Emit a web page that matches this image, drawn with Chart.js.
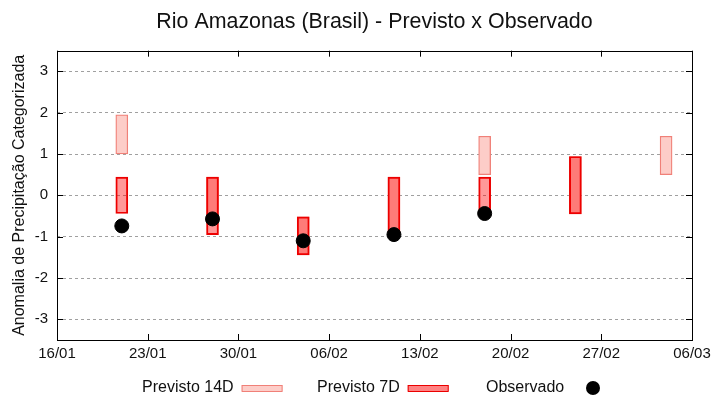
<!DOCTYPE html>
<html>
<head>
<meta charset="utf-8">
<script src="https://cdn.jsdelivr.net/npm/chart.js@4.4.1/dist/chart.umd.min.js"></script>
<style>
 html, body { margin: 0; padding: 0; background: #fff; }
</style>
</head>
<body>
<canvas id="chuvaChart" width="720" height="400"></canvas>
<script>
// dias contados a partir de 16/01
const tickDays = [0, 7, 14, 21, 28, 35, 42, 49];
const tickLabels = ['16/01', '23/01', '30/01', '06/02', '13/02', '20/02', '27/02', '06/03'];
const yTicks = [-3, -2, -1, 0, 1, 2, 3];

const prev14Days = [5, 12, 19, 26, 33, 40, 47];
const prev14Low  = [1.0, -0.68, -1.44, -0.9, 0.5, -0.45, 0.5];
const prev14High = [1.95, 0.44, -0.52, 0.44, 1.43, 0.94, 1.43];

const prev7Days = [5, 12, 19, 26, 33, 40];
const prev7Low  = [-0.44, -0.95, -1.44, -0.9, -0.44, -0.45];
const prev7High = [0.44, 0.44, -0.52, 0.44, 0.44, 0.94];

const obsDays = [5, 12, 19, 26, 33];
const obsValues = [-0.74, -0.57, -1.1, -0.95, -0.44];

const textCol = '#111';
const fontFam = '"Liberation Sans", Arial, sans-serif';

const c14 = { fill: 'rgb(253,205,200)', border: 'rgb(240,128,120)' };
const c7 = { fill: 'rgba(255,0,0,0.4)', border: 'rgb(235,0,0)' };

// moldura com tiques para dentro (estilo gnuplot)
const moldura = {
 id: 'moldura',
 afterDatasetsDraw(chart) {
  const { ctx, chartArea: a, scales } = chart;
  const len = 6;
  ctx.save();
  ctx.strokeStyle = '#000';
  ctx.lineWidth = 1;
  ctx.beginPath();
  scales.y.ticks.forEach(t => {
   const y = Math.round(scales.y.getPixelForValue(t.value)) + 0.5;
   ctx.moveTo(a.left, y); ctx.lineTo(a.left + len, y);
   ctx.moveTo(a.right, y); ctx.lineTo(a.right - len, y);
  });
  scales.x.ticks.forEach(t => {
   const x = Math.round(scales.x.getPixelForValue(t.value)) + 0.5;
   ctx.moveTo(x, a.bottom); ctx.lineTo(x, a.bottom - len);
   ctx.moveTo(x, a.top); ctx.lineTo(x, a.top + len);
  });
  ctx.stroke();
  ctx.strokeRect(Math.round(a.left) + 0.5, Math.round(a.top) + 0.5,
   Math.round(a.right - a.left), Math.round(a.bottom - a.top));
  ctx.restore();
 }
};

// legenda: texto e depois a amostra
const legendaBaixo = {
 id: 'legendaBaixo',
 afterDraw(chart) {
  const { ctx } = chart;
  const spots = [142, 317, 486];
  ctx.save();
  ctx.font = '16px ' + fontFam;
  ctx.textBaseline = 'alphabetic';
  chart.data.datasets.forEach((ds, i) => {
   const x = spots[i];
   ctx.fillStyle = textCol;
   ctx.fillText(ds.label, x, 392);
   const w = ctx.measureText(ds.label).width;
   if (ds.type === 'scatter') {
    ctx.beginPath();
    ctx.arc(593, 388, 7, 0, Math.PI * 2);
    ctx.fillStyle = '#000';
    ctx.fill();
   } else {
    const bx = x + w + 8;
    ctx.fillStyle = ds.legendFill;
    ctx.fillRect(bx, 385, 41, 6);
    ctx.strokeStyle = ds.borderColor;
    ctx.lineWidth = 1;
    ctx.strokeRect(bx + 0.5, 385.5, 40, 6);
   }
  });
  ctx.restore();
 }
};

const ctx = document.getElementById('chuvaChart').getContext('2d');

new Chart(ctx, {
 type: 'bar',
 data: {
  datasets: [
   {
    label: 'Previsto 14D',
    data: prev14Days.map((d, i) => ({ x: d, y: [prev14Low[i], prev14High[i]] })),
    backgroundColor: c14.fill,
    borderColor: c14.border,
    legendFill: c14.fill,
    borderWidth: 1.3,
    borderSkipped: false,
    barThickness: 12,
    grouped: false,
    order: 3
   },
   {
    label: 'Previsto 7D',
    data: prev7Days.map((d, i) => ({ x: d, y: [prev7Low[i], prev7High[i]] })),
    backgroundColor: c7.fill,
    borderColor: c7.border,
    legendFill: 'rgb(255,130,130)',
    borderWidth: 1.3,
    borderSkipped: false,
    barThickness: 12,
    grouped: false,
    order: 2
   },
   {
    type: 'scatter',
    label: 'Observado',
    data: obsDays.map((d, i) => ({ x: d, y: obsValues[i] })),
    backgroundColor: '#000',
    borderColor: '#000',
    pointRadius: 7,
    showLine: false,
    order: 1
   }
  ]
 },
 options: {
  responsive: false,
  animation: false,
  devicePixelRatio: 1,
  layout: { padding: { left: 0, right: 28, top: 0, bottom: 0 } },
  plugins: {
   legend: { display: false },
   tooltip: { enabled: false },
   title: {
    display: true,
    fullSize: false,
    text: 'Rio Amazonas (Brasil) - Previsto x Observado',
    color: textCol,
    font: { family: fontFam, size: 21.4, weight: 'normal' },
    padding: { top: 9, bottom: 16 }
   }
  },
  scales: {
   x: {
    type: 'linear',
    min: 0,
    max: 49,
    offset: false,
    afterBuildTicks: s => { s.ticks = tickDays.map(v => ({ value: v })); },
    afterFit: s => { s.height = 60; },
    grid: { display: false, drawTicks: false },
    border: { display: false },
    ticks: {
     color: textCol,
     padding: 5,
     maxRotation: 0,
     autoSkip: false,
     font: { family: fontFam, size: 15 },
     callback: v => tickLabels[tickDays.indexOf(v)]
    }
   },
   y: {
    min: -3.5,
    max: 3.5,
    afterBuildTicks: s => { s.ticks = yTicks.map(v => ({ value: v })); },
    afterFit: s => { s.width = 57; },
    grid: { color: '#a0a0a0', lineWidth: 1, drawTicks: false },
    border: { display: false, dash: [3, 3] },
    ticks: {
     color: textCol,
     padding: 9,
     font: { family: fontFam, size: 15 }
    },
    title: {
     display: true,
     text: 'Anomalia de Precipitação Categorizada',
     color: textCol,
     font: { family: fontFam, size: 16 },
     padding: { top: 10, bottom: 0 }
    }
   }
  }
 },
 plugins: [moldura, legendaBaixo]
});
</script>
</body>
</html>
